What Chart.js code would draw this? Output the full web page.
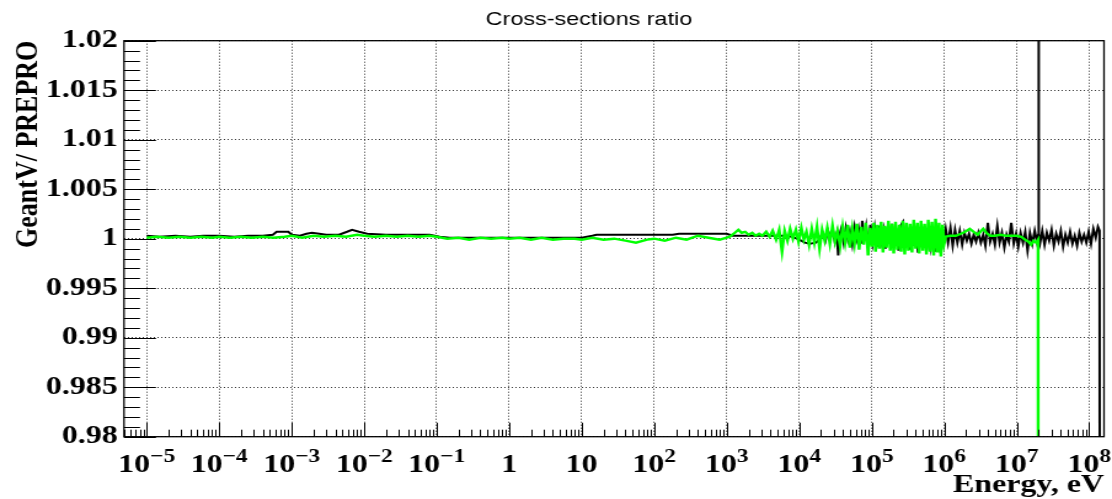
<!DOCTYPE html>
<html>
<head>
<meta charset="utf-8">
<title>Cross-sections ratio</title>
<script src="https://cdn.jsdelivr.net/npm/chart.js@4.4.1/dist/chart.umd.min.js"></script>
<style>
  html, body { margin: 0; padding: 0; background: #fff; overflow: hidden; }
  /* the reference picture is stretched sideways, so the canvas is too */
  #wrap { width: 904px; height: 499px; transform: scaleX(1.2301); transform-origin: 0 0; }
</style>
</head>
<body>
<div id="wrap"><canvas id="chartRatio" width="904" height="499" style="width:904px;height:499px"></canvas></div>
<script>
const chartTitle = 'Cross-sections ratio';
const yTitle = 'GeantV/ PREPRO';
const xTitle = 'Energy, eV';
const xMin = 4.87e-6, xMax = 1.6e8;
const yMin = 0.98, yMax = 1.02;
const xTickExponents = [-5, -4, -3, -2, -1, 0, 1, 2, 3, 4, 5, 6, 7, 8];

// black curve
const blackLowEnergy = [
  1e-5, 1.5e-5, 2.5e-5, 4e-5, 6e-5, 1e-4, 1.6e-4, 2.5e-4,
  4e-4, 5.5e-4, 6.2e-4, 9e-4, 1e-3, 1.3e-3, 1.6e-3, 1.9e-3,
  2.4e-3, 3e-3, 4.5e-3, 5.8e-3, 6.8e-3, 8.5e-3, 1.1e-2, 2e-2,
  4e-2, 8e-2, 0.11, 0.15, 0.4, 1, 3, 10,
  14, 16, 60, 180, 220, 600, 1000, 1200,
  3000, 6000, 8000, 1e4, 1.2e4, 1.4e4, 1.7e4, 1.9e4
];
const blackLowRatio = [
  1.0003, 1.0002, 1.0003, 1.0002, 1.0003, 1.0003, 1.0002, 1.0003,
  1.0003, 1.0004, 1.0007, 1.0007, 1.0004, 1.0003, 1.0005, 1.0006,
  1.0005, 1.0004, 1.0004, 1.0007, 1.0009, 1.0007, 1.0005, 1.0004,
  1.0004, 1.0004, 1.0002, 1.0001, 1.0001, 1.0001, 1.0001, 1.0001,
  1.0003, 1.0004, 1.0004, 1.0004, 1.0005, 1.0005, 1.0005, 1.0003,
  1.0003, 1.0003, 1.0002, 0.9999, 0.9996, 0.9995, 0.9996, 0.9999
];
const blackMidEnergy = [
  2.1e4, 2.3e4, 2.5e4, 2.7e4, 2.9e4, 3.1e4, 3.3e4, 3.45e4,
  3.6e4, 3.8e4, 4.1e4, 4.4e4, 4.7e4, 5e4, 5.4e4, 5.8e4,
  6.2e4, 6.6e4, 7.1e4, 7.4e4, 7.9e4, 8.4e4, 9e4, 9.6e4,
  1.03e5, 1.1e5, 1.18e5, 1.26e5, 1.35e5, 1.45e5, 1.55e5, 1.66e5,
  1.78e5, 1.9e5, 2.04e5, 2.18e5, 2.34e5, 2.5e5, 2.7e5, 2.9e5,
  3.1e5, 3.3e5, 3.55e5, 3.8e5, 4.05e5, 4.35e5, 4.65e5, 5e5,
  5.35e5, 5.7e5, 6.1e5, 6.55e5, 7e5, 7.5e5, 8e5, 8.6e5,
  9.2e5, 9.8e5
];
const blackMidRatio = [
  1.0006, 0.9998, 1.0008, 1.0001, 1.0009, 0.9997, 1.0005, 0.9983,
  1.0004, 1.0010, 0.9996, 1.0011, 0.9999, 1.0008, 0.9994, 1.0012,
  1.0000, 1.0010, 0.9995, 1.0018, 0.9998, 1.0012, 0.9993, 1.0014,
  0.9996, 1.0011, 0.9992, 1.0013, 0.9997, 1.0009, 0.9990, 1.0012,
  0.9995, 1.0015, 0.9992, 1.0010, 0.9988, 1.0013, 1.0017, 0.9994,
  1.0011, 0.9989, 1.0012, 0.9993, 1.0010, 0.9986, 1.0009, 0.9991,
  1.0012, 0.9988, 1.0010, 0.9992, 1.0009, 0.9987, 1.0008, 0.9993,
  1.0007, 0.9995
];
const blackHighEnergy = [
  1.05e6, 1.13e6, 1.22e6, 1.31e6, 1.41e6, 1.52e6, 1.64e6, 1.77e6,
  1.9e6, 2.05e6, 2.2e6, 2.37e6, 2.55e6, 2.75e6, 2.96e6, 3.2e6,
  3.45e6, 3.7e6, 4e6, 4.3e6, 4.65e6, 5e6, 5.4e6, 5.8e6,
  6.25e6, 6.75e6, 7.25e6, 7.8e6, 8.4e6, 9.1e6, 9.8e6, 1.05e7,
  1.13e7, 1.22e7, 1.31e7, 1.41e7, 1.52e7, 1.64e7, 1.77e7, 1.9e7,
  1.98e7, 2.0e7, 2.02e7, 2.1e7, 2.25e7, 2.42e7, 2.6e7, 2.8e7,
  3.02e7, 3.25e7, 3.5e7, 3.77e7, 4.06e7, 4.37e7, 4.7e7, 5.06e7,
  5.45e7, 5.87e7, 6.32e7, 6.8e7, 7.32e7, 7.88e7, 8.48e7, 9.13e7,
  9.83e7, 1.06e8, 1.14e8, 1.23e8, 1.32e8, 1.39e8, 1.4e8
];
const blackHighRatio = [
  1.0010, 0.9996, 1.0011, 0.9993, 1.0009, 0.9996, 1.0008, 0.9994,
  1.0006, 0.9998, 1.0005, 0.9995, 1.0004, 0.9997, 1.0006, 0.9996,
  1.0004, 0.9993, 1.0016, 0.9997, 1.0005, 0.9994, 1.0013, 0.9996,
  1.0006, 0.9991, 1.0004, 0.9997, 1.0016, 0.9995, 1.0005, 0.9992,
  1.0006, 0.9996, 1.0007, 0.9988, 1.0006, 0.9995, 1.0008, 0.9997,
  1.0004, 1.0500, 1.0005, 0.9996, 1.0008, 0.9994, 1.0006, 0.9998,
  1.0009, 0.9993, 1.0005, 0.9997, 1.0008, 0.9992, 1.0004, 0.9996,
  1.0007, 0.9995, 1.0003, 0.9993, 1.0006, 0.9997, 1.0004, 0.9996,
  1.0007, 0.9995, 1.0010, 1.0001, 1.0012, 1.0008, 0.9500
];

// green curve
const greenLowEnergy = [
  1e-5, 1.4e-5, 2e-5, 2.8e-5, 4e-5, 5.6e-5, 8e-5,
  1e-4, 1.4e-4, 2e-4, 2.8e-4, 4e-4, 5.6e-4, 8e-4,
  1e-3, 1.4e-3, 2e-3, 2.8e-3, 4e-3, 5.6e-3, 8e-3,
  1e-2, 1.4e-2, 2e-2, 2.8e-2, 4e-2, 5.6e-2, 8e-2,
  0.1, 0.14, 0.2, 0.28, 0.4, 0.56, 0.8,
  1, 1.4, 2, 2.8, 4, 5.6, 8,
  10, 14, 20, 28, 40, 56, 80,
  100, 140, 200, 280, 400, 560, 800
];
const greenLowRatio = [
  1.0001, 1.0002, 1.0001, 1.0002, 1.0001, 1.0002, 1.0001,
  1.0002, 1.0001, 1.0002, 1.0001, 1.0002, 1.0001, 1.0002,
  1.0003, 1.0001, 1.0003, 1.0002, 1.0003, 1.0002, 1.0004,
  1.0003, 1.0002, 1.0003, 1.0002, 1.0003, 1.0002, 1.0003,
  1.0002, 1.0000, 1.0001, 0.9999, 1.0001, 1.0000, 1.0001,
  1.0000, 1.0001, 0.9999, 1.0001, 0.9999, 1.0000, 1.0000,
  0.9999, 1.0001, 0.9999, 1.0000, 0.9998, 0.9996, 0.9999,
  1.0000, 0.9998, 1.0001, 0.9999, 1.0003, 1.0001, 0.9999
];
const greenMidEnergy = [
  1e3, 1.1e3, 1.25e3, 1.45e3, 1.6e3, 1.8e3, 2e3, 2.25e3,
  2.5e3, 2.8e3, 3.1e3, 3.5e3, 3.9e3, 4.3e3, 4.8e3, 5.3e3,
  5.8e3, 6.3e3, 6.9e3, 7.5e3, 8.2e3, 9e3, 9.8e3, 1.07e4,
  1.16e4, 1.26e4, 1.37e4, 1.49e4, 1.62e4, 1.76e4, 1.91e4, 2.07e4,
  2.25e4, 2.44e4, 2.65e4, 2.88e4, 3.12e4, 3.38e4, 3.67e4, 3.98e4,
  4.3e4, 4.65e4, 5e4, 5.4e4, 5.8e4, 6.25e4, 6.7e4, 7.2e4,
  7.75e4, 8.3e4, 8.9e4, 9.5e4, 1.01e5, 1.07e5, 1.13e5, 1.2e5,
  1.27e5, 1.35e5, 1.43e5, 1.51e5, 1.6e5, 1.7e5, 1.8e5, 1.9e5,
  2.01e5, 2.13e5, 2.26e5, 2.4e5, 2.54e5, 2.69e5, 2.85e5, 3.02e5,
  3.2e5, 3.39e5, 3.59e5, 3.8e5, 4.03e5, 4.27e5, 4.52e5, 4.79e5,
  5.07e5, 5.37e5, 5.69e5, 6.03e5, 6.39e5, 6.77e5, 7.17e5, 7.6e5,
  8.05e5, 8.5e5, 9e5, 9.5e5
];
const greenMidRatio = [
  1.0001, 1.0002, 1.0005, 1.0009, 1.0006, 1.0007, 1.0004, 1.0006,
  1.0003, 1.0005, 1.0003, 1.0007, 1.0002, 1.0008, 0.9999, 1.0009,
  0.9987, 1.0008, 0.9998, 1.0010, 1.0000, 1.0009, 0.9997, 1.0011,
  0.9999, 1.0007, 0.9994, 1.0010, 0.9996, 1.0012, 0.9990, 1.0009,
  0.9998, 1.0011, 0.9995, 1.0013, 0.9997, 1.0008, 0.9993, 1.0012,
  0.9996, 1.0014, 0.9991, 1.0010, 0.9995, 1.0015, 0.9989, 1.0012,
  0.9994, 1.0016, 0.9983, 1.0011, 0.9992, 1.0016, 0.9987, 1.0014,
  0.9990, 1.0017, 0.9986, 1.0013, 0.9991, 1.0018, 0.9988, 1.0015,
  0.9985, 1.0017, 0.9989, 1.0014, 0.9987, 1.0018, 0.9984, 1.0016,
  0.9988, 1.0015, 0.9986, 1.0019, 0.9990, 1.0016, 0.9985, 1.0018,
  0.9988, 1.0015, 0.9984, 1.0019, 0.9987, 1.0017, 0.9983, 1.0020,
  0.9986, 1.0016, 0.9982, 1.0014
];
const greenHighEnergy = [
  1e6, 1.05e6, 1.2e6, 1.45e6, 1.7e6, 1.95e6, 2.25e6, 2.55e6,
  2.9e6, 3.15e6, 3.45e6, 3.8e6, 4.3e6, 5e6, 6e6, 7e6,
  8.5e6, 1e7, 1.15e7, 1.3e7, 1.45e7, 1.58e7, 1.7e7, 1.85e7,
  1.97e7, 1.99e7
];
const greenHighRatio = [
  0.9995, 1.0002, 1.0003, 1.0003, 1.0005, 1.0007, 1.0010, 1.0007,
  1.0004, 1.0007, 1.0010, 1.0006, 1.0003, 1.0003, 1.0004, 1.0003,
  1.0003, 1.0003, 1.0002, 0.9999, 0.9997, 0.9994, 0.9998, 0.9996,
  0.9999, 0.9000
];

function toPoints(energies, ratios) {
  return energies.map((e, i) => ({ x: e, y: ratios[i] }));
}

const blackPoints = [
  ...toPoints(blackLowEnergy, blackLowRatio),
  ...toPoints(blackMidEnergy, blackMidRatio),
  ...toPoints(blackHighEnergy, blackHighRatio)
];
const greenPoints = [
  ...toPoints(greenLowEnergy, greenLowRatio),
  ...toPoints(greenMidEnergy, greenMidRatio),
  ...toPoints(greenHighEnergy, greenHighRatio)
];

const serif = '"Liberation Serif", "Times New Roman", serif';
const baseFont = 'bold 26px ' + serif;
const supFont = 'bold 19px ' + serif;

// ROOT style frame, inner ticks, exponent labels and title
const rootFramePlugin = {
  id: 'rootFrame',
  afterDatasetsDraw(chart) {
    const { ctx, chartArea: area, scales: { x, y } } = chart;
    ctx.save();
    ctx.strokeStyle = '#000';
    ctx.lineWidth = 1;
    ctx.beginPath();
    for (let d = -6; d <= 8; d++) {
      for (let m = 1; m <= 9; m++) {
        const v = m * Math.pow(10, d);
        if (v < xMin || v > xMax) continue;
        const px = Math.round(x.getPixelForValue(v)) + 0.5;
        ctx.moveTo(px, area.bottom);
        ctx.lineTo(px, area.bottom - (m === 1 ? 14 : 7));
      }
    }
    for (let k = 0; k <= 40; k++) {
      const py = Math.round(y.getPixelForValue(yMin + k * 0.001)) + 0.5;
      ctx.moveTo(area.left, py);
      ctx.lineTo(area.left + (k % 5 === 0 ? 26 : 13), py);
    }
    ctx.stroke();
    ctx.lineWidth = 1.3;
    ctx.strokeRect(area.left, area.top, area.right - area.left, area.bottom - area.top);
    ctx.restore();
  },
  afterDraw(chart) {
    const { ctx, scales: { x } } = chart;
    ctx.save();
    ctx.fillStyle = '#000';
    ctx.font = '19px "Liberation Sans", Arial, sans-serif';
    ctx.textAlign = 'center';
    ctx.textBaseline = 'alphabetic';
    ctx.fillText(chartTitle, 478.8, 25);

    ctx.textAlign = 'left';
    xTickExponents.forEach(e => {
      const base = e === 0 ? '1' : '10';
      const sup = (e === 0 || e === 1) ? '' : (e < 0 ? '\u2212' + (-e) : String(e));
      ctx.font = baseFont;
      const wb = ctx.measureText(base).width;
      ctx.font = supFont;
      const ws = sup ? ctx.measureText(sup).width : 0;
      const left = x.getPixelForValue(Math.pow(10, e)) - (wb + ws) / 2;
      ctx.font = baseFont;
      ctx.fillText(base, left, 471.5);
      if (sup) {
        ctx.font = supFont;
        ctx.fillText(sup, left + wb, 461.5);
      }
    });
    ctx.restore();
  }
};

const gridColor = 'rgba(0,0,0,0.8)';

new Chart(document.getElementById('chartRatio').getContext('2d'), {
  type: 'line',
  data: {
    datasets: [
      {
        label: 'green',
        data: greenPoints,
        borderColor: '#00ff00',
        borderWidth: 2.4,
        pointRadius: 0,
        tension: 0,
        fill: false
      },
      {
        label: 'black',
        data: blackPoints,
        borderColor: '#000000',
        borderWidth: 2,
        pointRadius: 0,
        tension: 0,
        fill: false
      }
    ]
  },
  options: {
    responsive: false,
    animation: false,
    layout: { padding: { left: 0, right: 6.5, top: 40.7, bottom: 0 } },
    plugins: {
      legend: { display: false },
      title: { display: false },
      tooltip: { enabled: false }
    },
    scales: {
      x: {
        type: 'logarithmic',
        min: xMin,
        max: xMax,
        afterBuildTicks: scale => {
          scale.ticks = xTickExponents.map(e => ({ value: Math.pow(10, e) }));
        },
        afterFit: scale => { scale.height = 62.3; },
        ticks: { display: false },
        grid: { color: gridColor, lineWidth: 1, drawTicks: false, borderDash: [1, 2] },
        border: { display: false, dash: [1, 2] },
        title: {
          display: true,
          text: xTitle,
          align: 'end',
          color: '#000',
          font: { family: serif, size: 26, weight: 'bold', lineHeight: 1 },
          padding: { top: 0, bottom: 1 }
        }
      },
      y: {
        min: yMin,
        max: yMax,
        afterFit: scale => { scale.width = 100.8; },
        ticks: {
          stepSize: 0.005,
          autoSkip: false,
          padding: 5,
          color: '#000',
          font: { family: serif, size: 26, weight: 'bold' },
          callback: v => String(Math.round(v * 1000) / 1000)
        },
        grid: { color: gridColor, lineWidth: 1, drawTicks: false, borderDash: [1, 2] },
        border: { display: false, dash: [1, 2] },
        title: {
          display: true,
          text: yTitle,
          align: 'end',
          color: '#000',
          font: { family: serif, size: 26, weight: 'bold', lineHeight: 1 },
          padding: { top: 10.5, bottom: 0 }
        }
      }
    }
  },
  plugins: [rootFramePlugin]
});
</script>
</body>
</html>
